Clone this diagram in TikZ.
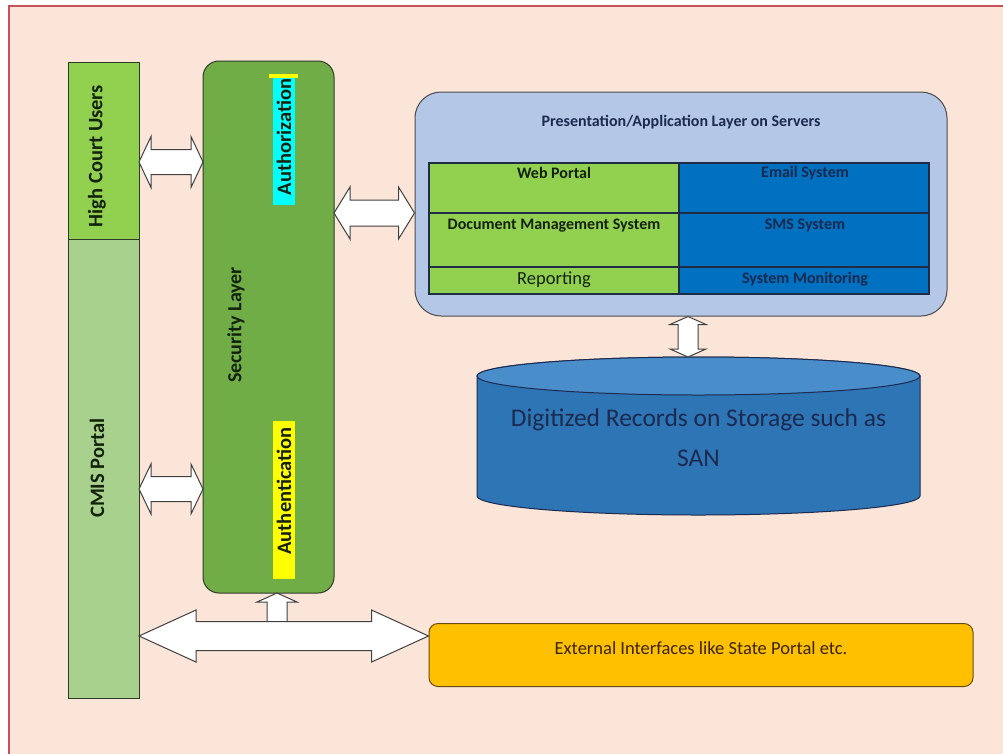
\documentclass[tikz,border=0pt]{standalone}
\usepackage{fontspec}
\setmainfont{Carlito}
\usetikzlibrary{calc}
\definecolor{bg}{HTML}{FBE4D8}
\definecolor{framec}{HTML}{C8505A}
\definecolor{lgreen}{HTML}{92D050}
\definecolor{pgreen}{HTML}{A9D18E}
\definecolor{mgreen}{HTML}{70AD47}
\definecolor{pblue}{HTML}{B4C7E7}
\definecolor{dblue}{HTML}{0070C0}
\definecolor{cylbody}{HTML}{2E75B6}
\definecolor{cyltop}{HTML}{4A8DCB}
\definecolor{amber}{HTML}{FFC000}
\definecolor{navy}{HTML}{1B2A4E}
\definecolor{edgec}{HTML}{2E3A28}
\definecolor{txtdark}{HTML}{14210C}
\definecolor{gridc}{HTML}{1E2C45}
\definecolor{extedge}{HTML}{6B4A12}
\definecolor{extt}{HTML}{3A2406}
\definecolor{aqua}{HTML}{00FFFF}
\definecolor{yel}{HTML}{FFFF00}
\newcommand\harrow[5]{%
  \draw[blk] let \p1=(#1), \p2=(#2) in
    (\x1,\y1) -- (\x1+#5,\y1+#4) -- (\x1+#5,\y1+#3) -- (\x2-#5,\y1+#3) -- (\x2-#5,\y1+#4)
    -- (\x2,\y1) -- (\x2-#5,\y1-#4) -- (\x2-#5,\y1-#3) -- (\x1+#5,\y1-#3) -- (\x1+#5,\y1-#4) -- cycle;}
\newcommand\varrow[5]{%
  \draw[blk] let \p1=(#1), \p2=(#2) in
    (\x1,\y1) -- (\x1+#4,\y1-#5) -- (\x1+#3,\y1-#5) -- (\x1+#3,\y2+#5) -- (\x1+#4,\y2+#5)
    -- (\x1,\y2) -- (\x1-#4,\y2+#5) -- (\x1-#3,\y2+#5) -- (\x1-#3,\y1-#5) -- (\x1-#4,\y1-#5) -- cycle;}
\begin{document}
\begin{tikzpicture}[x=1pt,y=-1pt,
  box/.style={draw=edgec, line width=1pt, inner sep=0pt, outer sep=0pt},
  vtext/.style={rotate=90, font=\bfseries\fontsize{20.5}{22}\selectfont, text=txtdark, inner sep=0pt},
  blk/.style={draw=black!75, fill=white, line width=1pt, line join=miter},
  cell/.style={draw=gridc, line width=1.2pt, inner sep=0pt, outer sep=0pt, minimum width=250pt},
  ctext/.style={font=\bfseries\fontsize{16}{18}\selectfont, inner sep=0pt},
]
\useasboundingbox (0,0) rectangle (1003,753);
\fill[white] (0,0) rectangle (1003,753);
\draw[fill=bg, draw=framec, line width=1.5pt] (9,6) rectangle (1012,762);

% left column
\node[box, fill=lgreen, minimum width=71pt, minimum height=177pt] (hcu) at (103.5,150.5) {};
\node[box, fill=pgreen, minimum width=71pt, minimum height=459pt] (cmis) at (103.5,468.5) {};
\node[vtext] (hcut) at (97,156) {High Court Users};
\node[vtext] (cmist) at (97,468) {CMIS Portal};

% security layer
\node[box, fill=mgreen, rounded corners=16pt, minimum width=131pt, minimum height=532pt] (sec) at (268.5,327) {};
\node[vtext, font=\bfseries\fontsize{20}{22}\selectfont] (sect) at (236,325) {Security Layer};
\node[inner sep=0pt, fill=aqua, minimum width=22pt, minimum height=128pt] (authz) at (284,141) {};
\fill[yel] (269,74) rectangle (298,77.5);
\node[vtext] (authzt) at (284,137) {Authorization};
\node[inner sep=0pt, fill=yel, minimum width=22pt, minimum height=158pt] (authn) at (284,500) {};
\node[vtext] (authnt) at (284,491) {Authentication};

% presentation layer
\node[draw=black!70, line width=1pt, fill=pblue, rounded corners=26pt, minimum width=532pt, minimum height=224pt, inner sep=0pt] (pres) at (681,204) {};
\node[font=\bfseries\fontsize{16}{18}\selectfont, text=navy] (prest) at (681,122) {Presentation/Application Layer on Servers};
\node[cell, fill=lgreen, minimum height=50pt] (c11) at (554,188) {};
\node[cell, fill=lgreen, minimum height=54pt] (c21) at (554,240) {};
\node[cell, fill=lgreen, minimum height=27pt] (c31) at (554,280.5) {};
\node[cell, fill=dblue, minimum height=50pt] (c12) at (804,188) {};
\node[cell, fill=dblue, minimum height=54pt] (c22) at (804,240) {};
\node[cell, fill=dblue, minimum height=27pt] (c32) at (804,280.5) {};
\node[ctext, text=txtdark] (t11) at (554,173) {Web Portal};
\node[ctext, text=txtdark] (t21) at (554,226) {Document Management System};
\node[ctext, font=\fontsize{18.5}{20}\selectfont, text=txtdark] (t31) at (554,280) {Reporting};
\node[ctext, text=navy] (t12) at (805,173) {Email System};
\node[ctext, text=navy] (t22) at (805,226) {SMS System};
\node[ctext, text=navy] (t32) at (805,279) {System Monitoring};

% storage cylinder
\draw[draw=navy, line width=1pt, fill=cylbody] (477,376) -- (477,496)
  arc[start angle=180, end angle=360, x radius=221.5pt, y radius=19pt] -- (920,376)
  arc[start angle=0, end angle=180, x radius=221.5pt, y radius=19pt] -- cycle;
\draw[draw=navy, line width=1pt, fill=cyltop] (698.5,376) ellipse[x radius=221.5pt, y radius=19pt];
\node[font=\fontsize{25.5}{40}\selectfont, text=navy, align=center, inner sep=0pt] (san) at (698.5,438) {Digitized Records on Storage such as\\SAN};
\coordinate (santop) at (688,357);

% external interfaces
\node[draw=extedge, line width=1pt, fill=amber, rounded corners=9pt, minimum width=544pt, minimum height=63pt, inner sep=0pt] (ext) at (701,655) {};
\node[font=\fontsize{18.5}{20}\selectfont, text=extt, inner sep=0pt] (extt) at (701,648) {External Interfaces like State Portal etc.};

% block arrows
\harrow{hcu.east |- 0,162}{sec.west |- 0,162}{12.5pt}{25.5pt}{12pt}
\harrow{cmis.east |- 0,489}{sec.west |- 0,489}{12.5pt}{25pt}{12pt}
\harrow{sec.east |- 0,213}{pres.west |- 0,213}{13pt}{26pt}{16pt}
\varrow{pres.south -| 688,0}{santop}{10pt}{18pt}{8pt}
\coordinate (upb) at (277,623);
\draw[blk] let \p1=(upb), \p2=(sec.south -| upb) in
  (\x1-10pt,\y1) -- (\x1-10pt,\y2-9pt) -- (\x1-20pt,\y2-9pt) -- (\x1,\y2) -- (\x1+20pt,\y2-9pt) -- (\x1+10pt,\y2-9pt) -- (\x1+10pt,\y1);
\harrow{cmis.east |- 0,636}{ext.west |- 0,636}{14.5pt}{26pt}{57pt}
\end{tikzpicture}
\end{document}
